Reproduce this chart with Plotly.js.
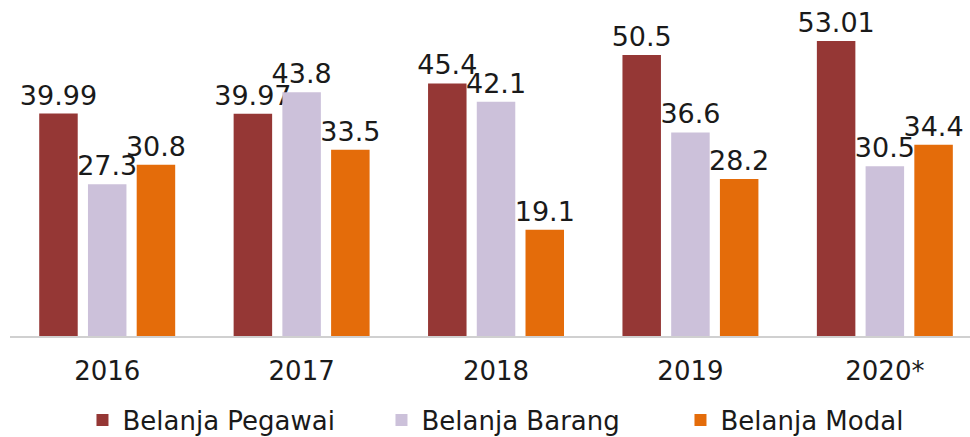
<!DOCTYPE html>
<html><head><meta charset="utf-8">
<script src="https://cdn.plot.ly/plotly-3.0.1.min.js"></script>
<style>html,body{margin:0;padding:0;background:#fff;}#chart{width:970px;height:437px;}</style>
</head><body><div id="chart"></div>
<script>
const years = ["2016", "2017", "2018", "2019", "2020*"];
const seriesNames = ["Belanja Pegawai", "Belanja Barang", "Belanja Modal"];
const pegawai = [39.99, 39.97, 45.4, 50.5, 53.01];
const barang = [27.3, 43.8, 42.1, 36.6, 30.5];
const modal = [30.8, 33.5, 19.1, 28.2, 34.4];
const labelsPegawai = ["39.99", "39.97", "45.4", "50.5", "53.01"];
const labelsBarang = ["27.3", "43.8", "42.1", "36.6", "30.5"];
const labelsModal = ["30.8", "33.5", "19.1", "28.2", "34.4"];
const colors = ["#953735", "#CCC1DA", "#E46C0A"];

const vals = [pegawai, barang, modal];
const labs = [labelsPegawai, labelsBarang, labelsModal];
const traces = vals.map((v, i) => ({
  type: "bar",
  name: seriesNames[i],
  x: years,
  y: v,
  text: labs[i],
  textposition: "outside",
  constraintext: "none",
  cliponaxis: false,
  textfont: {family: "DejaVu Sans", size: 27, color: "#1a1a1a"},
  marker: {color: colors[i]},
  hoverinfo: "none"
}));

const layout = {
  width: 970, height: 437,
  margin: {l: 10, r: 0, t: 10, b: 101, autoexpand: false},
  paper_bgcolor: "#fff", plot_bgcolor: "#fff",
  barmode: "group",
  bargap: 0.248,
  bargroupgap: 0.21,
  showlegend: true,
  legend: {orientation: "h", x: 0.0755, xanchor: "left", y: -0.258, yanchor: "middle",
    font: {family: "DejaVu Sans", size: 26, color: "#1a1a1a"}, itemwidth: 30,
    entrywidth: 254, entrywidthmode: "pixels",
    traceorder: "normal"},
  xaxis: {type: "category", range: [-0.5, 4.438], showline: true, linecolor: "#d0d0d0", linewidth: 2,
    ticks: "outside", ticklen: 11, tickcolor: "rgba(0,0,0,0)", showgrid: false, zeroline: false,
    tickfont: {family: "DejaVu Sans", size: 26, color: "#1a1a1a"}},
  yaxis: {range: [0, 58.6], visible: false, showgrid: false, zeroline: false}
};
Plotly.newPlot("chart", traces, layout, {displayModeBar: false, staticPlot: true});
</script></body></html>
